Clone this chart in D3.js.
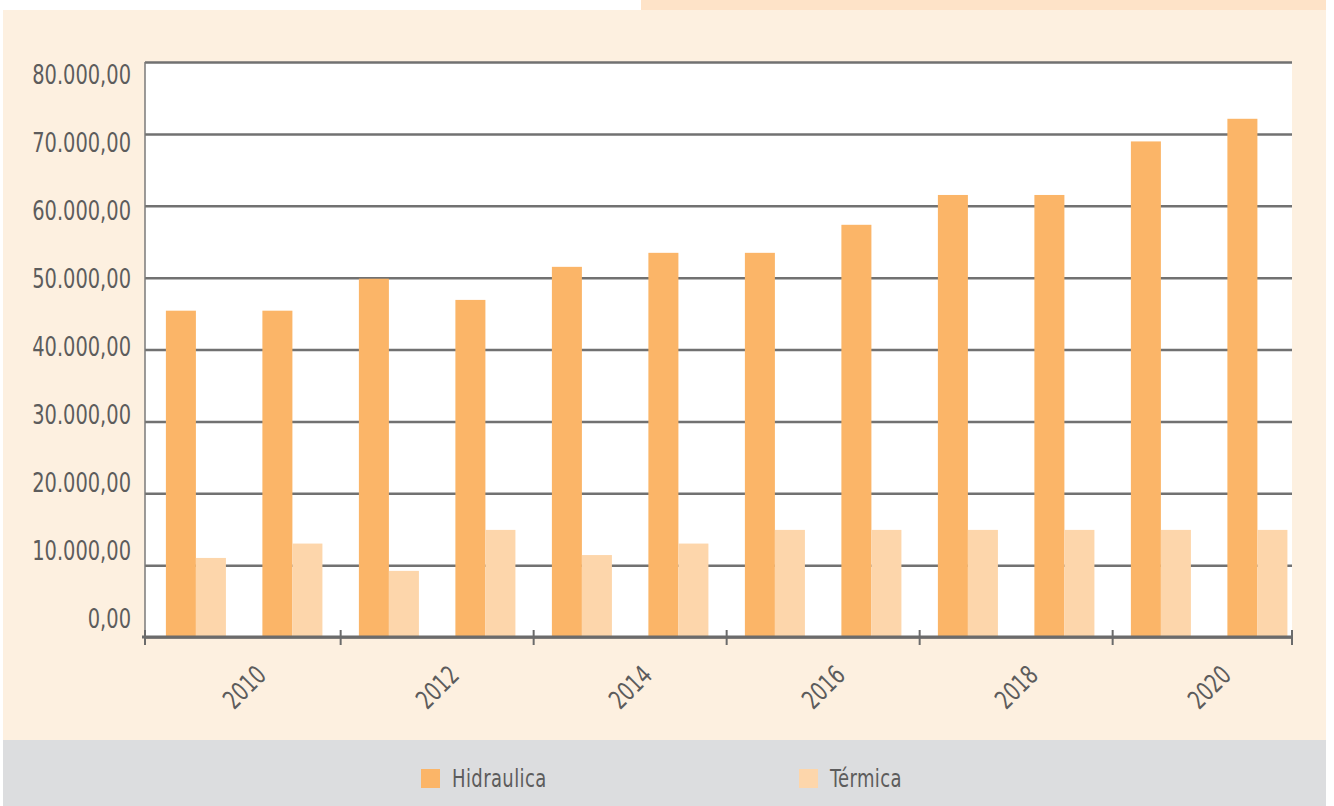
<html>
<head>
<style>
body {
  margin: 0;
  background: #ffffff;
}
svg {
  display: block;
}
text {
  font-family: "Liberation Sans Narrow", "DejaVu Sans Condensed", "Arial Narrow", sans-serif;
  fill: #5c5c5c;
}
</style>
</head>
<body>
<script src="https://cdnjs.cloudflare.com/ajax/libs/d3/7.8.5/d3.min.js"></script>
<script>
// data
var years = [2010, 2011, 2012, 2013, 2014, 2015, 2016, 2017, 2018, 2019, 2020, 2021]
var tickLabels = ["2010", "2012", "2014", "2016", "2018", "2020"]
var seriesNames = ["Hidraulica", "Térmica"]
var hidraulica = [45400, 45400, 49850, 46900, 51500, 53450, 53450, 57350, 61500, 61500, 68950, 72100]
var termica = [11000, 13000, 9200, 14900, 11400, 13000, 14900, 14900, 14900, 14900, 14900, 14900]
var yTicks = [0, 10000, 20000, 30000, 40000, 50000, 60000, 70000, 80000]

var colors = ["#fbb568", "#fdd6ab"]

var W = 1334, H = 806
var plot = { left: 145, right: 1292, top: 62, bottom: 637 }
var squeeze = 0.8 // the original type is a narrow face, squash ours to match

var svg = d3.select("body")
  .append("svg")
  .attr("width", W)
  .attr("height", H)

// background panels
svg.append("rect").attr("x", 641).attr("y", 0).attr("width", 685).attr("height", 10).attr("fill", "#fee3c8")
svg.append("rect").attr("x", 3).attr("y", 10).attr("width", 1323).attr("height", 730).attr("fill", "#fdf0e0")
svg.append("rect").attr("x", 3).attr("y", 740).attr("width", 1323).attr("height", 66).attr("fill", "#dcdddf")
svg.append("rect")
  .attr("x", plot.left)
  .attr("y", plot.top)
  .attr("width", plot.right - plot.left)
  .attr("height", plot.bottom - plot.top)
  .attr("fill", "#ffffff")

var y = d3.scaleLinear().domain([0, 80000]).range([plot.bottom, plot.top])
// tick labels sit a little off their gridlines in the original
var yLabel = d3.scaleLinear().domain([0, 80000]).range([618, 74])

var x0 = d3.scaleBand()
  .domain(years)
  .range([plot.left, plot.right])
  .paddingInner(0.378)
  .paddingOuter(0.132)
  .align(0.82)

var x1 = d3.scaleBand()
  .domain(seriesNames)
  .range([0, x0.bandwidth()])

// gridlines
var grid = svg.append("g")
  .attr("transform", "translate(" + plot.left + ",0)")
  .call(d3.axisLeft(y).tickValues(yTicks).tickSize(-(plot.right - plot.left)).tickFormat(""))
grid.select(".domain").remove()
grid.selectAll(".tick line")
  .attr("stroke", "#717171")
  .attr("stroke-width", 2.5)

var fmt = function(v) {
  return d3.format(",.2f")(v).replace(/,/g, "#").replace(".", ",").replace(/#/g, ".")
}

svg.append("g").selectAll("text")
  .data(yTicks)
  .enter().append("text")
  .attr("transform", function(d) { return "translate(131," + yLabel(d) + ") scale(" + squeeze + ",1)" })
  .attr("dy", "0.36em")
  .attr("text-anchor", "end")
  .attr("font-size", 27)
  .text(fmt)

// bars
var rows = years.map(function(yr, i) {
  return { year: yr, values: [hidraulica[i], termica[i]] }
})

var groups = svg.append("g").selectAll("g")
  .data(rows)
  .enter().append("g")
  .attr("transform", function(d) { return "translate(" + x0(d.year) + ",0)" })

groups.selectAll("rect")
  .data(function(d) {
    return d.values.map(function(v, k) { return { name: seriesNames[k], value: v, k: k } })
  })
  .enter().append("rect")
  .attr("x", function(d) { return x1(d.name) })
  .attr("width", x1.bandwidth())
  .attr("y", function(d) { return y(d.value) })
  .attr("height", function(d) { return plot.bottom - y(d.value) })
  .attr("fill", function(d) { return colors[d.k] })

// left axis line
svg.append("line")
  .attr("x1", plot.left).attr("x2", plot.left)
  .attr("y1", plot.top).attr("y2", plot.bottom + 8)
  .attr("stroke", "#7a7a7a")
  .attr("stroke-width", 1.5)

// bottom axis
svg.append("line")
  .attr("x1", plot.left - 3).attr("x2", plot.right)
  .attr("y1", plot.bottom).attr("y2", plot.bottom)
  .attr("stroke", "#6b6b6b")
  .attr("stroke-width", 3)

var gap = x0.step() - x0.bandwidth()
var tickXs = [plot.left]
for (var i = 2; i < years.length; i += 2) {
  tickXs.push(x0(years[i]) - gap / 2)
}
tickXs.push(plot.right)

svg.append("g").selectAll("line")
  .data(tickXs)
  .enter().append("line")
  .attr("x1", function(d) { return d }).attr("x2", function(d) { return d })
  .attr("y1", plot.bottom - 7).attr("y2", plot.bottom + 8)
  .attr("stroke", "#6b6b6b")
  .attr("stroke-width", 2)

svg.append("g").selectAll("text")
  .data(tickLabels)
  .enter().append("text")
  .attr("transform", function(d, i) {
    var a = years[i * 2], b = years[i * 2 + 1]
    var cx = (x0(a) + x0(b) + x0.bandwidth()) / 2
    return "translate(" + cx + ",687) rotate(-45) scale(" + squeeze + ",1)"
  })
  .attr("text-anchor", "middle")
  .attr("dy", "0.36em")
  .attr("font-size", 26)
  .text(function(d) { return d })

// legend
var legendX = [421, 799]
var legend = svg.append("g").selectAll("g")
  .data(seriesNames)
  .enter().append("g")
  .attr("transform", function(d, i) { return "translate(" + legendX[i] + ",769)" })

legend.append("rect")
  .attr("width", 19)
  .attr("height", 19)
  .attr("fill", function(d, i) { return colors[i] })

legend.append("text")
  .attr("transform", "translate(31,18) scale(" + squeeze + ",1)")
  .attr("font-size", 25)
  .attr("letter-spacing", 0.5)
  .text(function(d) { return d })
</script>
</body>
</html>
